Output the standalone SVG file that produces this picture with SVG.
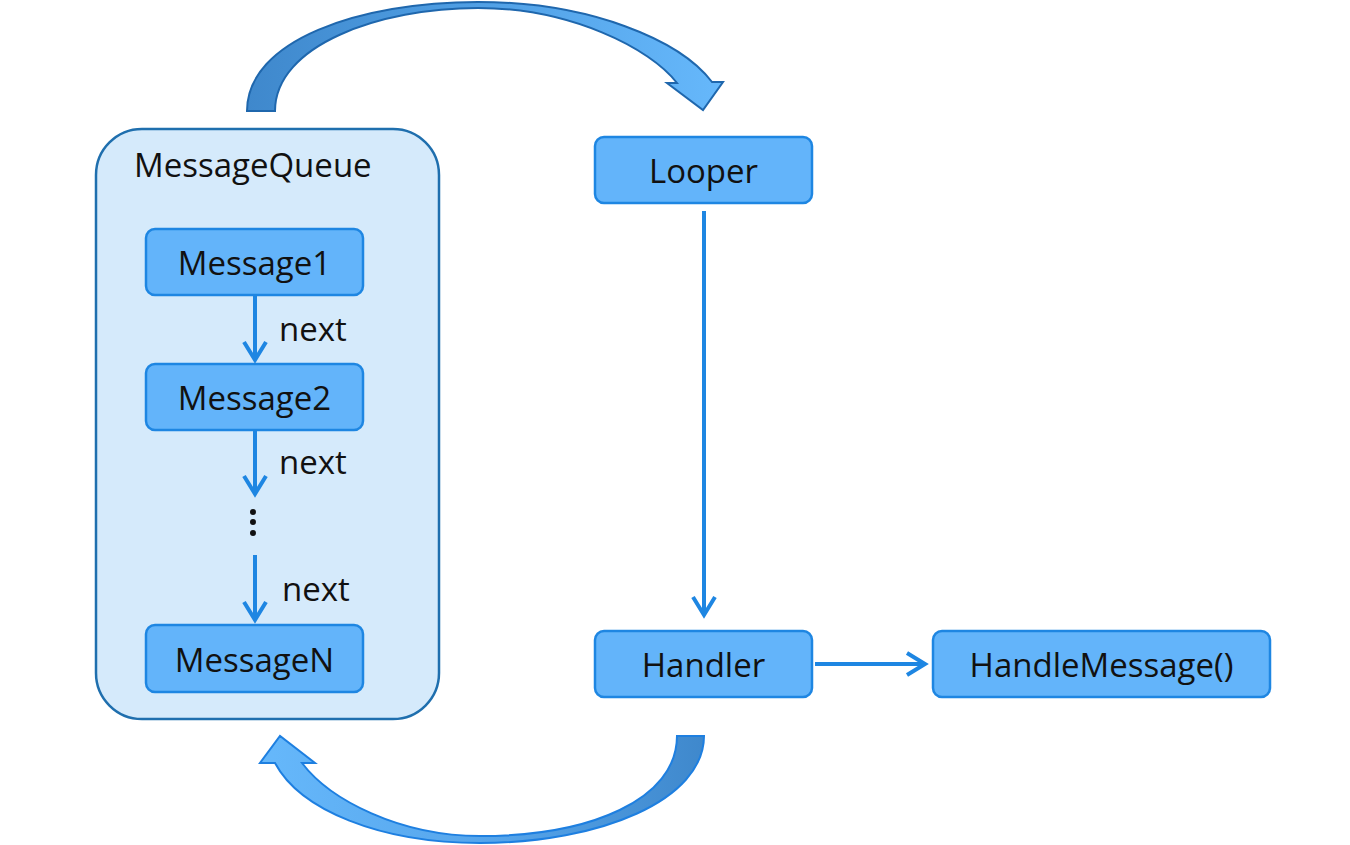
<svg xmlns="http://www.w3.org/2000/svg" width="1350" height="845" viewBox="0 0 1350 845">
<style>
.node{fill:#63b4fa;stroke:#1e86e2;stroke-width:2.5}
.lbl{font-family:"Open Sans","Liberation Sans",sans-serif;font-size:33px;fill:#111;text-anchor:middle}
.nx{font-family:"Open Sans","Liberation Sans",sans-serif;font-size:33px;fill:#111}
.conn{stroke:#1e86e2;stroke-width:4;fill:none}
</style>
<defs>
<marker id="ah" viewBox="-22 -14 26 28" markerWidth="26" markerHeight="28" refX="0" refY="0" orient="auto" markerUnits="userSpaceOnUse">
<path d="M-18,-11 L0,0 L-18,11" fill="none" stroke="#1e86e2" stroke-width="4"/>
</marker>
<linearGradient id="gTop" x1="247" y1="0" x2="723" y2="0" gradientUnits="userSpaceOnUse">
<stop offset="0" stop-color="#3f88cc"/>
<stop offset="0.45" stop-color="#4f9ee3"/>
<stop offset="1" stop-color="#66b8fb"/>
</linearGradient>
<linearGradient id="gBot" x1="704" y1="0" x2="260" y2="0" gradientUnits="userSpaceOnUse">
<stop offset="0" stop-color="#3f88cc"/>
<stop offset="0.45" stop-color="#55a4ea"/>
<stop offset="1" stop-color="#66b8fb"/>
</linearGradient>
</defs>
<rect width="1350" height="845" fill="#ffffff"/>

<g id="topArrow">
<path d="M247,111 C247,40 360,2 478,2 C590,2 680,40 712,82 L723,82 L703,110 L667,83 L677,83 C650,48 570,8 478,8 C380,8 275,45 275,111 Z" fill="url(#gTop)" stroke="#1f67ad" stroke-width="2"/>
</g>
<g id="bottomArrow">
<path d="M704,736 C704,800 600,843 480,843 C380,843 300,810 275,763 L260,763 L280,736 L315,763 L302,763 C330,800 400,836 480,836 C590,836 677,800 677,736 Z" fill="url(#gBot)" stroke="#1e7fe0" stroke-width="2"/>
</g>

<g id="messageQueue">
<rect x="96" y="129" width="343" height="590" rx="46" fill="#d5eafb" stroke="#1f6fae" stroke-width="2.5"/>
<text class="nx" x="134" y="177">MessageQueue</text>
</g>

<g id="message1">
<rect class="node" x="146" y="229" width="217" height="66" rx="9"/>
<text class="lbl" x="254.5" y="275">Message1</text>
</g>
<g id="message2">
<rect class="node" x="146" y="364" width="217" height="66" rx="9"/>
<text class="lbl" x="254.5" y="410">Message2</text>
</g>
<g id="ellipsis">
<circle cx="253" cy="512" r="3" fill="#111"/>
<circle cx="253" cy="522" r="3" fill="#111"/>
<circle cx="253" cy="533" r="3" fill="#111"/>
</g>
<g id="messageN">
<rect class="node" x="146" y="625" width="217" height="67" rx="9"/>
<text class="lbl" x="254.5" y="672">MessageN</text>
</g>
<g id="looper">
<rect class="node" x="595" y="137" width="217" height="66" rx="9"/>
<text class="lbl" x="703.5" y="183">Looper</text>
</g>
<g id="handler">
<rect class="node" x="595" y="631" width="217" height="66" rx="9"/>
<text class="lbl" x="703.5" y="677">Handler</text>
</g>
<g id="handleMessage">
<rect class="node" x="933" y="631" width="337" height="66" rx="9"/>
<text class="lbl" x="1101.5" y="677">HandleMessage()</text>
</g>

<g id="connectors">
<line class="conn" x1="255" y1="296" x2="255" y2="360" marker-end="url(#ah)"/>
<text class="nx" x="279" y="341">next</text>
<line class="conn" x1="255" y1="431" x2="255" y2="494" marker-end="url(#ah)"/>
<text class="nx" x="279" y="474">next</text>
<line class="conn" x1="255" y1="555" x2="255" y2="620" marker-end="url(#ah)"/>
<text class="nx" x="282" y="601">next</text>
<line class="conn" x1="704" y1="211" x2="704" y2="615" marker-end="url(#ah)"/>
<line class="conn" x1="815" y1="664" x2="925" y2="664" marker-end="url(#ah)"/>
</g>
</svg>
